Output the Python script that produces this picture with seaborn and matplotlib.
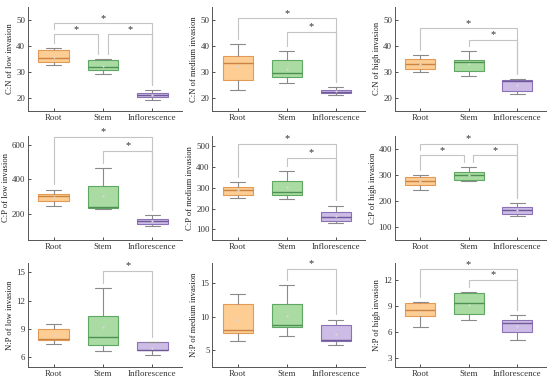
import matplotlib
matplotlib.use("Agg")
import matplotlib.pyplot as plt
import seaborn as sns
import pandas as pd

# five-number summaries: min, q1, median, q3, max
categories = ["Root", "Stem", "Inflorescence"]

cn_low = [[32.5, 34.0, 35.4, 38.3, 39.2], [29.0, 30.7, 31.8, 34.5, 34.8], [19.1, 20.3, 21.0, 21.8, 23.0]]
cn_medium = [[23.2, 27.0, 33.6, 36.3, 40.6], [25.8, 27.9, 29.4, 34.7, 38.0], [21.2, 21.7, 22.2, 23.2, 24.1]]
cn_high = [[29.9, 31.2, 33.1, 34.8, 36.5], [28.6, 30.3, 33.9, 34.7, 38.0], [21.5, 22.8, 26.4, 26.9, 27.3]]
cp_low = [[248, 277, 302, 312, 340], [227, 233, 242, 363, 463], [129, 144, 158, 169, 194]]
cp_medium = [[250, 268, 290, 303, 327], [247, 268, 282, 332, 381], [131, 139, 158, 185, 215]]
cp_high = [[243, 260, 278, 292, 300], [278, 281, 301, 311, 330], [141, 150, 166, 175, 190]]
np_low = [[7.44, 7.86, 7.97, 9.02, 9.59], [6.70, 7.37, 8.18, 10.43, 13.35], [6.25, 6.77, 6.84, 7.65, 7.65]]
np_medium = [[6.4, 7.55, 7.95, 11.95, 13.3], [7.05, 8.4, 8.7, 11.9, 14.75], [5.7, 6.3, 6.45, 8.7, 9.55]]
np_high = [[6.63, 7.83, 8.56, 9.33, 9.49], [7.40, 8.06, 9.33, 10.57, 10.64], [5.16, 6.01, 7.02, 7.40, 7.98]]

# significance brackets: (group a, group b, height)
cn_low_sig = [(0, 2, 48.7), (0, 1, 44.5), (1, 2, 44.5)]
cn_medium_sig = [(0, 2, 50.6), (1, 2, 45.5)]
cn_high_sig = [(0, 2, 46.8), (1, 2, 42.3)]
cp_low_sig = [(0, 2, 646), (1, 2, 565)]
cp_medium_sig = [(0, 2, 513), (1, 2, 445)]
cp_high_sig = [(0, 2, 419), (0, 1, 375), (1, 2, 375)]
np_low_sig = [(1, 2, 15.2)]
np_medium_sig = [(1, 2, 17.15)]
np_high_sig = [(0, 2, 13.27), (1, 2, 12.03)]

panels = [
    (cn_low, cn_low_sig, "C:N of low invasion", (15, 55), [20, 30, 40, 50]),
    (cn_medium, cn_medium_sig, "C:N of medium invasion", (15, 55), [20, 30, 40, 50]),
    (cn_high, cn_high_sig, "C:N of high invasion", (15, 55), [20, 30, 40, 50]),
    (cp_low, cp_low_sig, "C:P of low invasion", (50, 650), [200, 400, 600]),
    (cp_medium, cp_medium_sig, "C:P of medium invasion", (50, 550), [100, 200, 300, 400, 500]),
    (cp_high, cp_high_sig, "C:P of high invasion", (50, 450), [100, 200, 300, 400]),
    (np_low, np_low_sig, "N:P of low invasion", (5, 16), [6, 9, 12, 15]),
    (np_medium, np_medium_sig, "N:P of medium invasion", (2.5, 18), [5, 10, 15]),
    (np_high, np_high_sig, "N:P of high invasion", (2, 14), [3, 6, 9, 12]),
]

face_colors = ["#FDCD94", "#A9DBA3", "#CDBDE6"]
edge_colors = ["#E39A55", "#5FA862", "#8C72B5"]
median_colors = ["#C98443", "#4E8F52", "#6F5A99"]

sns.set_style("ticks")
plt.rcParams["font.family"] = ["Liberation Serif", "DejaVu Serif"]

fig = plt.figure(figsize=(5.5, 3.85), dpi=100)
lefts = [0.051, 0.386, 0.718]
bottoms = [0.712, 0.377, 0.047]
widths = [0.280, 0.278, 0.275]
height = 0.270

for n, (values, sigs, label, ylim, yticks) in enumerate(panels):
    r, c = divmod(n, 3)
    ax = fig.add_axes([lefts[c], bottoms[r], widths[c], height])
    for g, vals in enumerate(values):
        df = pd.DataFrame({"group": categories[g], "value": vals})
        sns.boxplot(data=df, x="group", y="value", order=categories, ax=ax,
                    color=face_colors[g], linecolor=edge_colors[g], saturation=1,
                    width=0.62, whis=(0, 100), linewidth=0.8,
                    whiskerprops=dict(color="#8A8A8A", linewidth=0.8),
                    capprops=dict(color="#8A8A8A", linewidth=0.8),
                    medianprops=dict(color=median_colors[g], linewidth=1.0),
                    showmeans=True,
                    meanprops=dict(marker="o", markersize=1.6, markerfacecolor="#D8D8D8",
                                   markeredgecolor="none"))
    ax.set_xlim(-0.52, 2.6)
    ax.set_ylim(*ylim)
    ax.set_yticks(yticks)
    ax.set_xlabel("")
    ax.set_ylabel(label, fontsize=6.2, labelpad=1.5, color="#222222")
    ax.tick_params(direction="in", length=2.5, width=0.6, labelsize=6.4,
                   colors="#333333", pad=2)
    for s in ["top", "right"]:
        ax.spines[s].set_visible(False)
    for s in ["left", "bottom"]:
        ax.spines[s].set_color("#555555")
        ax.spines[s].set_linewidth(0.7)

    span = ylim[1] - ylim[0]
    gap = 0.05 * span
    tops = [v[-1] for v in values]
    has_left = {a for a, b, h in sigs}
    has_right = {b for a, b, h in sigs}
    for a, b, h in sigs:
        xa = a + (0.1 if a == 1 and 1 in has_right else 0)
        xb = b - (0.1 if b == 1 and 1 in has_left else 0)
        low_a = max([tops[a]] + [h2 for a2, b2, h2 in sigs if a2 == a and h2 < h]) + gap
        low_b = tops[b] + gap
        ax.plot([xa, xa, xb, xb], [low_a, h, h, low_b], color="#C4C4C4",
                linewidth=0.8, clip_on=False, zorder=1)
        ax.text((xa + xb) / 2, h + 0.005 * span, "*", ha="center", va="bottom",
                fontsize=7.5, color="#333333", clip_on=False)

fig.savefig("out.png", dpi=100)
